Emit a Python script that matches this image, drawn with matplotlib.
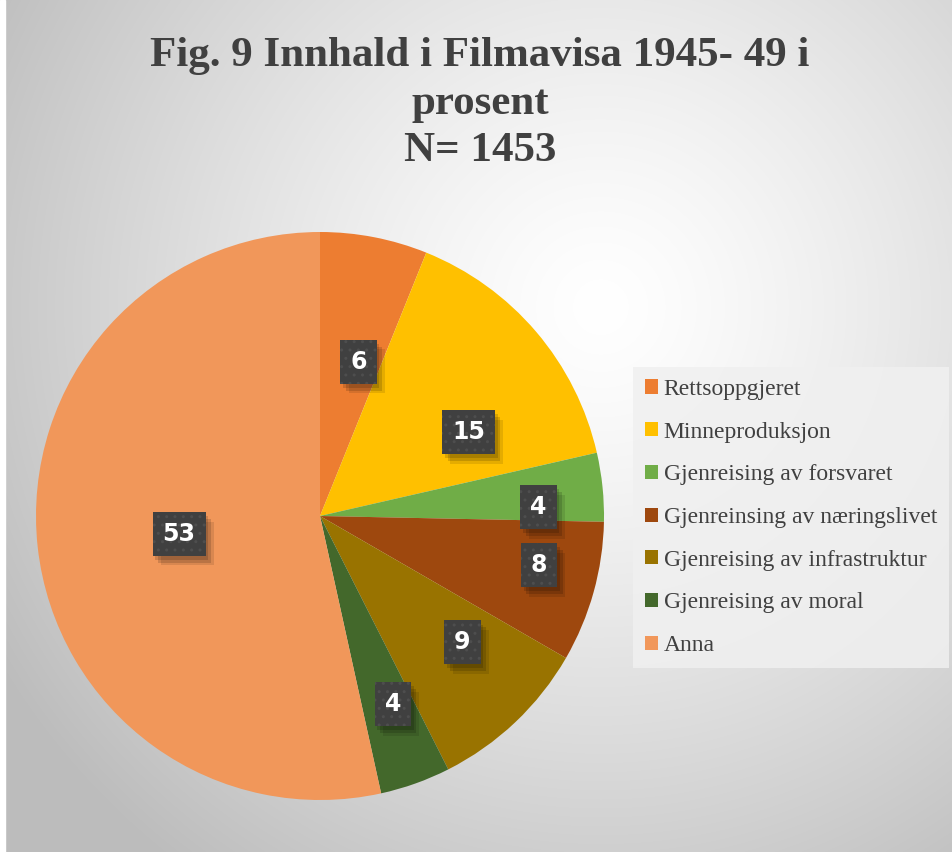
import numpy as np
import matplotlib
import matplotlib.pyplot as plt
import matplotlib.patheffects as pe

matplotlib.use('Agg')

# Data (percent)
categories = ['Rettsoppgjeret', 'Minneproduksjon', 'Gjenreising av forsvaret',
              'Gjenreinsing av næringslivet', 'Gjenreising av infrastruktur',
              'Gjenreising av moral', 'Anna']
values = [6.1, 15.3, 3.9, 8.0, 9.2, 4.0, 53.4]
colors = ['#ED7D31', '#FFC000', '#70AD47', '#9E480E', '#997300', '#43682B', '#F1975A']
title = 'Fig. 9 Innhald i Filmavisa 1945- 49 i\nprosent\nN= 1453'


# shadow for the label boxes, without the box's dot hatch
class PlainShadow(pe.SimplePatchShadow):
    def draw_path(self, renderer, gc, tpath, affine, rgbFace):
        gc0 = renderer.new_gc()
        gc0.copy_properties(gc)
        gc0.set_hatch(None)
        super().draw_path(renderer, gc0, tpath, affine, rgbFace)


W, H = 953, 852
fig = plt.figure(figsize=(W / 100, H / 100), dpi=100)

# radial gradient background
bg = fig.add_axes([0, 0, 1, 1], zorder=-10)
yy, xx = np.mgrid[0:H, 0:W]
d = np.hypot(xx - 0.63 * W, yy - 0.36 * H) / 720
g = np.clip(1 - 0.27 * d ** 1.3, 0.74, 1.0)
bg.imshow(np.dstack([g, g, g]), extent=[0, W, H, 0], aspect='auto')
bg.add_patch(plt.Rectangle((0, 0), 5, H, color='white'))
bg.set_xlim(0, W)
bg.set_ylim(H, 0)
bg.axis('off')

# pie: centre (320, 516) px, radius 284 px
cx, cy, r = 320, 516, 284
ax = fig.add_axes([(cx - r) / W, (H - cy - r) / H, 2 * r / W, 2 * r / H])
wedges, _ = ax.pie(values, colors=colors, startangle=90, counterclock=False,
                   radius=1, wedgeprops=dict(linewidth=0))
ax.set_xlim(-1, 1)
ax.set_ylim(-1, 1)
ax.set_aspect('equal')

# data labels in dark boxes ("best fit" placement: radius, angle shift)
label_r = [0.56, 0.60, 0.77, 0.79, 0.67, 0.71, 0.50]
label_shift = [-3, -11, -3.5, 3, 5, 1.5, 1]
for w, v, lr, sh in zip(wedges, values, label_r, label_shift):
    mid = np.deg2rad((w.theta1 + w.theta2) / 2 + sh)
    x, y = lr * np.cos(mid), lr * np.sin(mid)
    t = ax.text(x, y, f'{v:.0f}', ha='center', va='center', fontsize=17,
                fontweight='bold', color='white', family='DejaVu Sans',
                bbox=dict(boxstyle='square,pad=0.42', fc='#404040', ec='#4e4e4e',
                          lw=0, hatch='..'))
    t.get_bbox_patch().set_path_effects([
        PlainShadow(offset=(6, -7), shadow_rgbFace='black', alpha=0.10),
        PlainShadow(offset=(4, -5), shadow_rgbFace='black', alpha=0.14),
        PlainShadow(offset=(2, -3), shadow_rgbFace='black', alpha=0.14),
        pe.Normal()])

# title
fig.text(480 / W, 1 - 37 / H, title, ha='center', va='top', fontsize=31,
         fontweight='bold', color='#404040', family='Liberation Serif',
         linespacing=1.33)

# legend
leg = fig.legend(wedges, categories, loc='upper left',
                 bbox_to_anchor=(633 / W, 1 - 367 / H), frameon=True,
                 fancybox=False, prop={'family': 'Liberation Serif', 'size': 17},
                 labelcolor='#404040', handlelength=0.55, handleheight=0.55,
                 handletextpad=0.25, labelspacing=0.92, borderpad=0.5,
                 borderaxespad=0)
leg.get_frame().set_facecolor('#f0f0f0')
leg.get_frame().set_edgecolor('none')
leg.get_frame().set_alpha(0.85)

plt.savefig('out.png', dpi=100)
